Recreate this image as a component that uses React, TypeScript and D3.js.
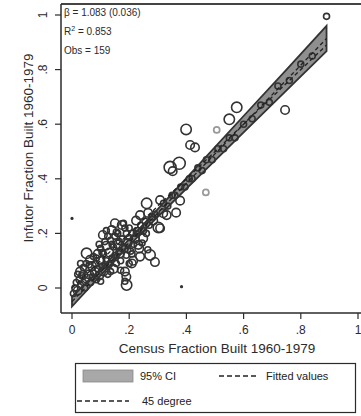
import React from 'react';
import * as d3 from 'd3';

// Census vs Infutor share of housing built 1960-1979 (one circle per area, sized by weight)
const censusX = [
  // upper / off-diagonal areas
  0.89, 0.745, 0.576, 0.55, 0.399, 0.413, 0.43, 0.343, 0.375, 0.378, 0.331, 0.364, 0.319, 0.308,
  0.261, 0.302, 0.284, 0.224, 0.238, 0.266, 0.273, 0.29, 0.238, 0.191, 0.185, 0.308, 0.352,
  // along the diagonal
  0.32, 0.335, 0.35, 0.36, 0.38, 0.395, 0.41, 0.42, 0.44, 0.455, 0.47, 0.49, 0.51, 0.53, 0.55,
  0.57, 0.6, 0.63, 0.66, 0.69, 0.72, 0.76, 0.8, 0.84,
  // dense core
  0.005, 0.01, 0.015, 0.02, 0.02, 0.025, 0.028, 0.03, 0.035, 0.039, 0.04, 0.04, 0.045, 0.05, 0.05,
  0.051, 0.063, 0.06, 0.065, 0.07, 0.07, 0.075, 0.08, 0.082, 0.085, 0.09, 0.09, 0.095, 0.1, 0.1, 0.1,
  0.105, 0.108, 0.11, 0.11, 0.115, 0.12, 0.12, 0.125, 0.13, 0.13, 0.135, 0.139, 0.14, 0.145, 0.145,
  0.15, 0.15, 0.15, 0.12,
  0.155, 0.16, 0.16, 0.165, 0.168, 0.17, 0.174, 0.175, 0.18, 0.18, 0.185, 0.19, 0.19, 0.19, 0.195,
  0.2, 0.2, 0.2,
  0.205, 0.209, 0.214, 0.21, 0.215, 0.22, 0.23, 0.232, 0.235, 0.24, 0.249, 0.25, 0.255, 0.26, 0.265,
  0.27, 0.28, 0.29,
  0.03, 0.06, 0.075, 0.085, 0.095, 0.105, 0.115, 0.125, 0.135, 0.14, 0.155, 0.165, 0.17, 0.185,
  0.195, 0.21, 0.225, 0.245,
];

const infutorY = [
  0.995, 0.652, 0.662, 0.618, 0.581, 0.524, 0.515, 0.442, 0.457, 0.32, 0.267, 0.276, 0.274, 0.322,
  0.31, 0.222, 0.247, 0.247, 0.267, 0.275, 0.121, 0.095, 0.115, 0.011, 0.025, 0.219, 0.428,
  0.31, 0.3, 0.34, 0.34, 0.37, 0.37, 0.4, 0.4, 0.44, 0.43, 0.47, 0.47, 0.51, 0.51, 0.55,
  0.55, 0.6, 0.62, 0.67, 0.68, 0.74, 0.76, 0.82, 0.85,
  -0.02, 0.0, 0.02, -0.01, 0.05, 0.03, 0.06, 0.01, 0.045, 0.048, 0.02, 0.075, 0.0, 0.035, 0.09,
  0.127, 0.103, 0.05, 0.02, 0.08, 0.04, 0.115, 0.06, 0.09, 0.03, 0.125, 0.07, 0.045, 0.1, 0.145, 0.025,
  0.08, 0.194, 0.06, 0.125, 0.17, 0.155, 0.1, 0.05, 0.13, 0.085, 0.175, 0.212, 0.11, 0.07, 0.15,
  0.237, 0.19, 0.12, 0.21,
  0.09, 0.16, 0.2, 0.135, 0.127, 0.1, 0.231, 0.18, 0.237, 0.145, 0.06, 0.041, 0.2, 0.12, 0.165,
  0.22, 0.09, 0.185,
  0.135, 0.09, 0.1, 0.2, 0.16, 0.18, 0.21, 0.158, 0.145, 0.23, 0.182, 0.21, 0.245, 0.2, 0.14,
  0.23, 0.26, 0.27,
  0.09, 0.085, 0.055, 0.11, 0.16, 0.13, 0.085, 0.19, 0.06, 0.16, 0.205, 0.17, 0.065, 0.22,
  0.14, 0.125, 0.2, 0.165,
];

const areaWeight = [
  1, 2, 3, 3, 3, 2, 2, 4, 4, 2, 2, 2, 2, 2,
  3, 3, 2, 2, 2, 2, 3, 2, 2, 3, 1, 2, 2,
  1, 1, 1, 1, 1, 1, 1, 1, 1, 1, 1, 1, 1, 1, 1,
  1, 1, 1, 1, 1, 1, 1, 1, 1,
  1, 1, 1, 2, 1, 1, 2, 1, 1, 2, 1, 1, 1, 2, 1,
  3, 2, 2, 1, 2, 1, 1, 2, 1, 1, 2, 1, 2, 2, 1, 1,
  1, 2, 2, 1, 1, 2, 1, 1, 2, 1, 1, 2, 1, 2, 1,
  2, 1, 1, 1,
  1, 2, 1, 1, 2, 1, 2, 1, 1, 2, 2, 2, 1, 1, 2,
  1, 1, 1,
  1, 2, 2, 1, 1, 2, 1, 2, 2, 1, 2, 1, 1, 1, 1,
  1, 1, 1,
  1, 1, 1, 1, 1, 1, 1, 1, 1, 1, 1, 1, 1, 1,
  1, 1, 1, 1,
];

// lighter markers
const grayX = [0.506, 0.468];
const grayY = [0.579, 0.35];

// tiny solid markers
const dotX = [0.0, 0.383];
const dotY = [0.255, 0.005];

// fitted line and its 95% confidence band
const slope = 1.083;
const slopeSE = 0.036;
const intercept = -0.05;
const r2 = 0.853;
const nObs = 159;
const fitRange = [0, 0.89];
const ciX = [0, 0.1, 0.2, 0.3, 0.45, 0.6, 0.75, 0.89];
const ciLo = [-0.068, 0.046, 0.156, 0.261, 0.415, 0.57, 0.724, 0.868];
const ciHi = [-0.032, 0.07, 0.178, 0.289, 0.459, 0.63, 0.8, 0.96];

const ticks = [0, 0.2, 0.4, 0.6, 0.8, 1];
const tickLabels = ['0', '.2', '.4', '.6', '.8', '1'];

const FONT = '"Liberation Sans", Arial, sans-serif';
const INK = '#2b2b2b';

export default function App() {
  const W = 361;
  const H = 416;
  const x = d3.scaleLinear().domain([0, 1]).range([72, 358]);
  const y = d3.scaleLinear().domain([0, 1]).range([288, 15]);
  const r = d3.scaleSqrt().domain([0, 4]).range([0, 6]);

  const left = 61;
  const top = 4;
  const bottom = 313;

  const band = d3
    .area<number>()
    .x((_, i) => x(ciX[i]))
    .y0((_, i) => y(ciLo[i]))
    .y1((_, i) => y(ciHi[i]));
  const bandPath = band(ciX) || '';

  const line = d3
    .line<number>()
    .x((d) => x(d))
    .y((d) => y(d));
  const fitPath = d3
    .line<number>()
    .x((d) => x(d))
    .y((d) => y(intercept + slope * d))(fitRange) || '';
  const diagPath = line(fitRange) || '';

  return (
    <svg
      width={W}
      height={H}
      style={{ position: 'absolute', left: 0, top: 0, background: '#fff' }}
      fontFamily={FONT}
    >
      <rect x={0} y={0} width={W} height={H} fill="#fff" />

      {/* frame */}
      <line x1={left} x2={W} y1={top} y2={top} stroke="#444" strokeWidth={2} />
      <line x1={left} x2={left} y1={top} y2={bottom} stroke={INK} strokeWidth={1.5} />
      <line x1={left} x2={W} y1={bottom} y2={bottom} stroke={INK} strokeWidth={1.5} />

      {/* y axis */}
      {ticks.map((t, i) => (
        <g key={'y' + i}>
          <line x1={left - 6} x2={left} y1={y(t)} y2={y(t)} stroke={INK} strokeWidth={1.2} />
          <text
            transform={`translate(${47},${y(t)}) rotate(-90)`}
            textAnchor="middle"
            fontSize={12}
            fill={INK}
          >
            {tickLabels[i]}
          </text>
        </g>
      ))}
      <text
        transform={`translate(${33},${148}) rotate(-90)`}
        textAnchor="middle"
        fontSize={13.5}
        fill={INK}
      >
        Infutor Fraction Built 1960-1979
      </text>

      {/* x axis */}
      {ticks.map((t, i) => (
        <g key={'x' + i}>
          <line x1={x(t)} x2={x(t)} y1={bottom} y2={bottom + 6} stroke={INK} strokeWidth={1.2} />
          <text x={x(t)} y={bottom + 21} textAnchor="middle" fontSize={12} fill={INK}>
            {tickLabels[i]}
          </text>
        </g>
      ))}
      <text x={217} y={353} textAnchor="middle" fontSize={13.5} fill={INK}>
        Census Fraction Built 1960-1979
      </text>

      {/* confidence band */}
      <path d={bandPath} fill="#8f8f8f" stroke="#333" strokeWidth={1.8} />

      {/* areas */}
      {censusX.map((cx, i) => (
        <circle
          key={'p' + i}
          cx={x(cx)}
          cy={y(infutorY[i])}
          r={r(areaWeight[i])}
          fill="none"
          stroke="#333"
          strokeWidth={1.6}
        />
      ))}
      {grayX.map((gx, i) => (
        <circle
          key={'g' + i}
          cx={x(gx)}
          cy={y(grayY[i])}
          r={3}
          fill="none"
          stroke="#999"
          strokeWidth={1.7}
        />
      ))}
      {dotX.map((dx, i) => (
        <circle key={'d' + i} cx={x(dx)} cy={y(dotY[i])} r={1.6} fill="#333" />
      ))}

      {/* fitted values and 45 degree line */}
      <path d={fitPath} fill="none" stroke="#222" strokeWidth={1.3} strokeDasharray="4 3" />
      <path d={diagPath} fill="none" stroke="#222" strokeWidth={1.3} strokeDasharray="4 3" />

      {/* regression summary */}
      <g fontSize={10} fill={INK}>
        <text x={64} y={16}>
          {`β = ${slope.toFixed(3)} (${slopeSE.toFixed(3)})`}
        </text>
        <text x={64} y={35}>
          R<tspan dy={-4} fontSize={7}>2</tspan>
          <tspan dy={4}>{` = ${r2.toFixed(3)}`}</tspan>
        </text>
        <text x={64} y={54}>{`Obs = ${nObs}`}</text>
      </g>

      {/* legend */}
      <rect x={75.5} y={363.5} width={280} height={49} fill="#fff" stroke={INK} strokeWidth={1.2} />
      <rect x={83} y={370} width={50} height={12} fill="#a8a8a8" stroke="#888" strokeWidth={0.8} />
      <text x={140} y={380} fontSize={11} fill="#222">95% CI</text>
      <line x1={219} x2={258} y1={376} y2={376} stroke="#222" strokeWidth={1.3} strokeDasharray="5 3" />
      <text x={266} y={380} fontSize={11} fill="#222">Fitted values</text>
      <line x1={77} x2={129} y1={401} y2={401} stroke="#222" strokeWidth={1.3} strokeDasharray="5 3" />
      <text x={142} y={405} fontSize={11} fill="#222">45 degree</text>
    </svg>
  );
}
